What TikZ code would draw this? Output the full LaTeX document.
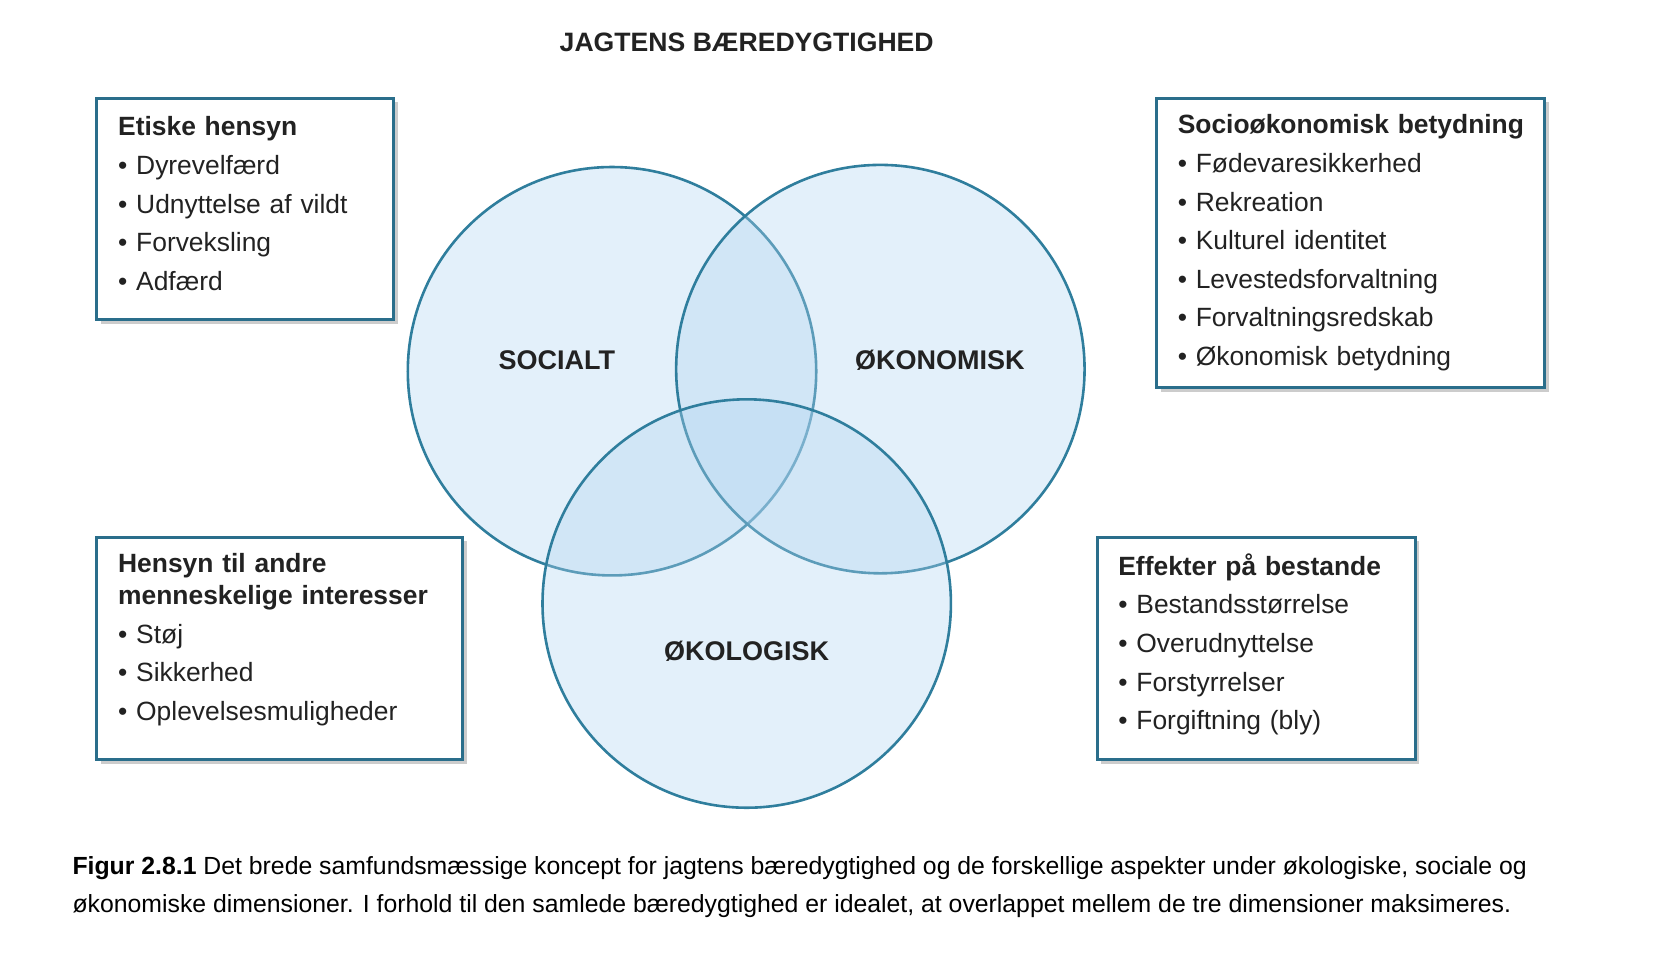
\documentclass[tikz,border=0pt]{standalone}
\usepackage{fontspec}
\setmainfont{Liberation Sans}
\usetikzlibrary{shadows}
\definecolor{ringblue}{HTML}{2F7E9D}
\definecolor{ringfill}{HTML}{B0D4F0}
\definecolor{boxblue}{HTML}{2A6E8B}
\definecolor{inktext}{HTML}{222222}
\newcommand{\lastdepth}[1]{\rule[-#1]{0pt}{0pt}}

\begin{document}
\begin{tikzpicture}
  [x=0.5303pt, y=-0.5303pt,
   ring/.style={circle, minimum size=204.2pt, inner sep=0pt, draw=ringblue,
     line width=1.3pt, fill=ringfill, fill opacity=0.35},
   ringlabel/.style={font=\bfseries\fontsize{13.5}{16}\selectfont, text=inktext},
   infobox/.style={draw=boxblue, line width=1.5pt, fill=white, anchor=north west,
     align=left, inner xsep=10.6pt, text=inktext,
     font=\fontsize{13.2}{19.3}\selectfont,
     drop shadow={shadow xshift=2pt, shadow yshift=-2pt, fill=black!40, opacity=0.5}}]
  \useasboundingbox (0,0) rectangle (1566,910.7);
  \node[font=\bfseries\fontsize{13.3}{16}\selectfont, text=inktext] (title) at (704,40) {JAGTENS BÆREDYGTIGHED};
  \node[ring] (social) at (577,350) {};
  \node[ring] (econ) at (830,348) {};
  \node[ring] (eco) at (704,569) {};
  \node[ringlabel] (sociallbl) at (525,340) {SOCIALT};
  \node[ringlabel] (econlbl) at (886,340) {ØKONOMISK};
  \node[ringlabel] (ecolbl) at (704,614) {ØKOLOGISK};
  \node[infobox, text width=127.3pt, minimum height=110.8pt] (ethics) at (90,91)
    {\textbf{Etiske hensyn}\\• Dyrevelfærd\\• Udnyttelse af vildt\\• Forveksling\\• Adfærd\lastdepth{5.3pt}};
  \node[infobox, text width=172.9pt, minimum height=144.8pt] (socioecon) at (1089,91)
    {\mbox{\textbf{Socioøkonomisk betydning}}\\• Fødevaresikkerhed\\• Rekreation\\• Kulturel identitet\\• Levestedsforvaltning\\• Forvaltningsredskab\\• Økonomisk betydning};
  \node[infobox, text width=161.8pt, minimum height=111.4pt] (human) at (90,505)
    {\textbf{Hensyn til andre}\\[-3.4pt]\textbf{menneskelige interesser}\\• Støj\\• Sikkerhed\\• Oplevelsesmuligheder\lastdepth{11.5pt}};
  \node[infobox, text width=137.9pt, minimum height=111.4pt] (stock) at (1033,505)
    {\textbf{Effekter på bestande}\\• Bestandsstørrelse\\• Overudnyttelse\\• Forstyrrelser\\• Forgiftning (bly)\lastdepth{7pt}};
  \node[anchor=north west, align=left, inner sep=0pt, text=black,
    font=\fontsize{12.4}{19.1}\selectfont] (caption) at (68,807)
    {\textbf{Figur 2.8.1} Det brede samfundsmæssige koncept for jagtens bæredygtighed og de forskellige aspekter under økologiske, sociale og\\
     økonomiske dimensioner. I forhold til den samlede bæredygtighed er idealet, at overlappet mellem de tre dimensioner maksimeres.};
\end{tikzpicture}
\end{document}
